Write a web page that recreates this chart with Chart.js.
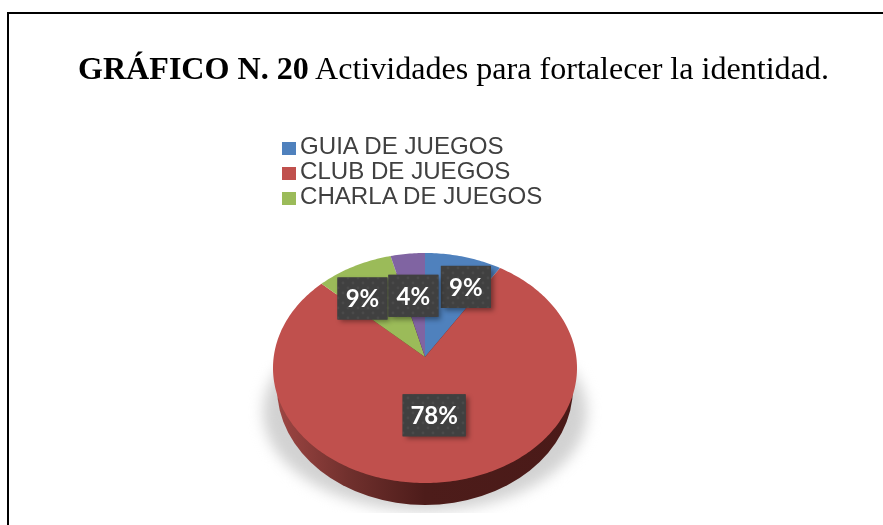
<!DOCTYPE html>
<html lang="es">
<head>
<meta charset="utf-8">
<title>Actividades para fortalecer la identidad</title>
<script src="https://cdn.jsdelivr.net/npm/chart.js@4"></script>
<style>
html,body{margin:0;padding:0;background:#fff;overflow:hidden}
#page{position:relative;width:883px;height:525px;overflow:hidden}
#frame{position:absolute;left:7px;top:12px;width:900px;height:600px;border:2px solid #000;box-sizing:content-box}
#title{position:absolute;left:78px;top:47px;font-family:"Liberation Serif",serif;font-size:32.1px;line-height:42px;color:#000;white-space:nowrap}
#legend{position:absolute;left:282px;top:133px;font-family:"Liberation Sans",sans-serif;font-size:24.1px;color:#404040}
#legend div{position:relative;height:25px;line-height:25px;padding-left:18px;white-space:nowrap}
#legend i{position:absolute;left:0;top:9px;width:14px;height:13px}
canvas{position:absolute;left:0;top:0}
</style>
</head>
<body>
<div id="page">
  <canvas id="chart" width="883" height="525"></canvas>
  <div id="frame"></div>
  <div id="title"><b>GRÁFICO N. 20</b> Actividades para fortalecer la identidad.</div>
  <div id="legend"></div>
</div>
<script>
const categories = ["GUIA DE JUEGOS", "CLUB DE JUEGOS", "CHARLA DE JUEGOS", ""];
const percentValues = [9, 78, 9, 4];
const sliceColors = ["#4F81BD", "#C0504D", "#9BBB59", "#8064A2"];
const labelNudges = [[15, -3], [-4, -20], [-15, 2], [0, 8]];
const perspective = 0.0957;
const wallDepth = 22;

document.getElementById("legend").innerHTML = categories
  .map((c, i) => c ? `<div><i style="background:${sliceColors[i]}"></i>${c}</div>` : "")
  .join("");

function dotPattern(ctx) {
  const t = document.createElement("canvas");
  t.width = 10; t.height = 10;
  const c = t.getContext("2d");
  c.fillStyle = "#404040"; c.fillRect(0, 0, 10, 10);
  c.fillStyle = "#4a4a4a";
  c.beginPath(); c.arc(3, 3, 1.4, 0, 7); c.fill();
  c.beginPath(); c.arc(8, 8, 1.4, 0, 7); c.fill();
  return ctx.createPattern(t, "repeat");
}

const piePlugin = {
  id: "perspectivePie",
  beforeDatasetsDraw(chart) {
    const ctx = chart.ctx, area = chart.chartArea;
    const cx = (area.left + area.right) / 2, cy = (area.top + area.bottom) / 2;
    const rx = area.width / 2, ry = area.height / 2, k = perspective;
    const b = rx * Math.sqrt(1 - k * k), a = ry * (1 - k * k);
    const apexY = cy - ry * k;
    const project = (r, t) => {
      const u = r * Math.cos(t), v = r * Math.sin(t), d = 1 - k * v;
      return [cx + b * u / d, apexY + a * v / d];
    };

    // ground shadow, cut off at the bottom like the reference
    ctx.save();
    ctx.beginPath();
    ctx.rect(cx - rx - 40, cy - 8, 2 * rx + 80, ry + wallDepth + 8 + 8);
    ctx.clip();
    ctx.filter = "blur(7px)";
    ctx.fillStyle = "#d2d2d2";
    ctx.beginPath();
    ctx.ellipse(cx, cy + 44, rx + 10, ry - 16, 0, 0, Math.PI * 2);
    ctx.fill();
    ctx.restore();

    // side wall
    ctx.save();
    const wall = ctx.createLinearGradient(cx - rx, 0, cx + rx, 0);
    wall.addColorStop(0, "#a04744");
    wall.addColorStop(0.25, "#70302d");
    wall.addColorStop(0.5, "#4d1c1a");
    wall.addColorStop(1, "#4a1a18");
    ctx.fillStyle = wall;
    ctx.beginPath();
    ctx.ellipse(cx, cy + wallDepth - 2, rx - 4, ry + 2, 0, 0, Math.PI * 2);
    ctx.fill();
    ctx.restore();

    // slices: angles come from the library's arc elements
    const arcs = chart.getDatasetMeta(0).data;
    arcs.forEach((arc, i) => {
      const p = arc.getProps(["startAngle", "endAngle"]);
      ctx.beginPath();
      ctx.moveTo(cx, apexY);
      const n = Math.max(4, Math.ceil((p.endAngle - p.startAngle) * 60));
      for (let j = 0; j <= n; j++) {
        const q = project(1, p.startAngle + (p.endAngle - p.startAngle) * j / n);
        ctx.lineTo(q[0], q[1]);
      }
      ctx.closePath();
      ctx.fillStyle = sliceColors[i];
      ctx.fill();
    });

    // percentage labels
    const pattern = dotPattern(ctx);
    ctx.font = "bold 24px Lato, sans-serif";
    ctx.textAlign = "center";
    ctx.textBaseline = "middle";
    arcs.forEach((arc, i) => {
      const p = arc.getProps(["startAngle", "endAngle"]);
      const q = project(0.65, (p.startAngle + p.endAngle) / 2);
      const x = q[0] + labelNudges[i][0], y = q[1] + labelNudges[i][1];
      const text = percentValues[i] + "%";
      const w = text.length > 2 ? 63 : 50, h = 42;
      ctx.save();
      ctx.shadowColor = "rgba(0,0,0,0.4)";
      ctx.shadowBlur = 5;
      ctx.shadowOffsetX = 3;
      ctx.shadowOffsetY = 3;
      ctx.fillStyle = "#404040";
      ctx.fillRect(x - w / 2, y - h / 2, w, h);
      ctx.restore();
      ctx.fillStyle = pattern;
      ctx.fillRect(x - w / 2, y - h / 2, w, h);
      ctx.fillStyle = "#fff";
      ctx.fillText(text, x, y + 1);
    });
    return false;
  }
};

new Chart(document.getElementById("chart"), {
  type: "pie",
  data: {
    labels: categories,
    datasets: [{ data: percentValues, backgroundColor: sliceColors, borderWidth: 0 }]
  },
  options: {
    responsive: false,
    animation: false,
    layout: { padding: { left: 273, right: 306, top: 253, bottom: 42 } },
    plugins: { legend: { display: false }, title: { display: false }, tooltip: { enabled: false } }
  },
  plugins: [piePlugin]
});
</script>
</body>
</html>
